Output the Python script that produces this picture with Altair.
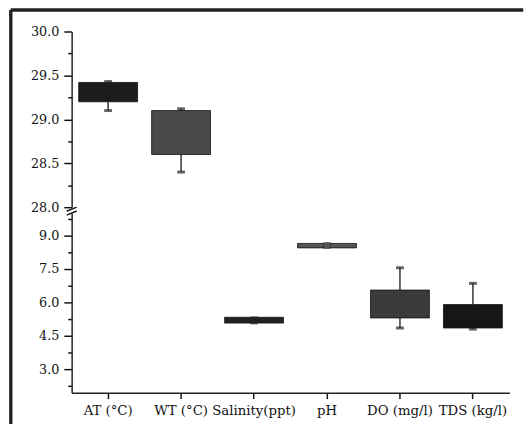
import altair as alt
import pandas as pd

cats = ["AT (°C)", "WT (°C)", "Salinity(ppt)", "pH", "DO (mg/l)", "TDS (kg/l)"]
panel = ["top", "top", "bottom", "bottom", "bottom", "bottom"]
mins = [29.1, 28.4, 5.08, 8.47, 4.85, 4.8]
q1s = [29.2, 28.6, 5.07, 8.44, 5.3, 4.85]
meds = [29.3, 28.95, 5.2, 8.55, 5.9, 5.2]
q3s = [29.42, 29.1, 5.33, 8.64, 6.55, 5.9]
maxs = [29.43, 29.12, 5.3, 8.62, 7.55, 6.85]
fills = ["#1c1c1c", "#4a4a4a", "#222222", "#555555", "#3a3a3a", "#161616"]

top_ticks = [28 + 0.25 * i for i in range(9)]
bot_ticks = [2.25 + 0.75 * i for i in range(11)]

df = pd.DataFrame({"cat": cats, "panel": panel, "lo": mins, "q1": q1s,
                   "med": meds, "q3": q3s, "hi": maxs, "fill": fills})

FONT = "DejaVu Serif"
W = 446
H_TOP = 179
H_BOT = 183


def panel_chart(name, domain, ticks, major_test, height, show_x):
    d = df[df["panel"] == name]
    base = alt.Chart(d)
    xenc = alt.X("cat:N", sort=cats,
                 scale=alt.Scale(domain=cats, paddingInner=0, paddingOuter=0),
                 axis=(alt.Axis(title=None, labelAngle=0, labelFont=FONT, labelFontSize=13.5,
                                labelColor="#111", ticks=True, tickSize=6, labelPadding=5,
                                labelOverlap=False, labelFlush=False,
                                domainColor="#222", domainWidth=1.5, tickColor="#111",
                                tickWidth=1.5)
                       if show_x else None))
    yscale = alt.Scale(domain=domain, nice=False, zero=False)
    yaxis = alt.Axis(title=None, values=ticks,
                     labelExpr=f"({major_test}) ? format(datum.value, '.1f') : ''",
                     labelFont=FONT, labelFontSize=13, labelColor="#111",
                     ticks=True,
                     tickSize={"condition": {"test": major_test, "value": 8}, "value": 4},
                     tickColor="#111", tickWidth=1.5,
                     labelOverlap=False, labelFlush=False,
                     domainColor="#222", domainWidth=1.5, labelPadding=5,
                     minExtent=60, maxExtent=60, grid=False)
    whisk_lo = base.mark_rule(color="#333", strokeWidth=1.5).encode(
        x=xenc, y=alt.Y("lo:Q", scale=yscale, axis=yaxis), y2="q1:Q")
    whisk_hi = base.mark_rule(color="#333", strokeWidth=1.5).encode(
        x=xenc, y=alt.Y("q3:Q", scale=yscale, axis=yaxis), y2="hi:Q")
    box = base.mark_bar(size=60, stroke="#111", strokeWidth=0.8).encode(
        x=xenc, y=alt.Y("q1:Q", scale=yscale, axis=yaxis), y2="q3:Q",
        color=alt.Color("fill:N", scale=None))
    cap_lo = base.mark_tick(orient="horizontal", size=8, thickness=3, color="#222").encode(
        x=xenc, y=alt.Y("lo:Q", scale=yscale, axis=yaxis))
    cap_hi = base.mark_tick(orient="horizontal", size=8, thickness=3, color="#222").encode(
        x=xenc, y=alt.Y("hi:Q", scale=yscale, axis=yaxis))
    dot = base.mark_point(filled=True, size=40, opacity=1).encode(
        x=xenc, y=alt.Y("med:Q", scale=yscale, axis=yaxis),
        color=alt.Color("fill:N", scale=None))
    layers = [whisk_lo, whisk_hi, box, cap_lo, cap_hi, dot]
    if name == "top":
        frame_left = alt.Chart(d).mark_rule(color="#222", strokeWidth=3).encode(
            x=alt.value(-62), y=alt.value(-22), y2=alt.value(400))
        frame_top = alt.Chart(d).mark_rule(color="#222", strokeWidth=3).encode(
            x=alt.value(-62), x2=alt.value(460), y=alt.value(-22))
        brk1 = alt.Chart(d).mark_rule(color="#222", strokeWidth=1.2).encode(
            x=alt.value(-5), x2=alt.value(5), y=alt.value(H_TOP + 4), y2=alt.value(H_TOP))
        brk2 = alt.Chart(d).mark_rule(color="#222", strokeWidth=1.2).encode(
            x=alt.value(-5), x2=alt.value(5), y=alt.value(H_TOP + 8), y2=alt.value(H_TOP + 4))
        layers += [frame_left, frame_top, brk1, brk2]
    return alt.layer(*layers).properties(width=W, height=height)


top = panel_chart("top", [28, 30], top_ticks,
                  "abs(datum.value*2 - round(datum.value*2)) < 0.01",
                  H_TOP, False)
bottom = panel_chart("bottom", [1.95, 10], bot_ticks,
                     "abs(datum.value/1.5 - round(datum.value/1.5)) < 0.01",
                     H_BOT, True)

chart = alt.vconcat(top, bottom, spacing=6, bounds="flush").properties(
    padding={"left": 9, "top": 4, "right": 5, "bottom": 5},
    background="white",
).configure_view(stroke=None)

chart.save("out.html", embed_options={"renderer": "svg", "actions": False})
